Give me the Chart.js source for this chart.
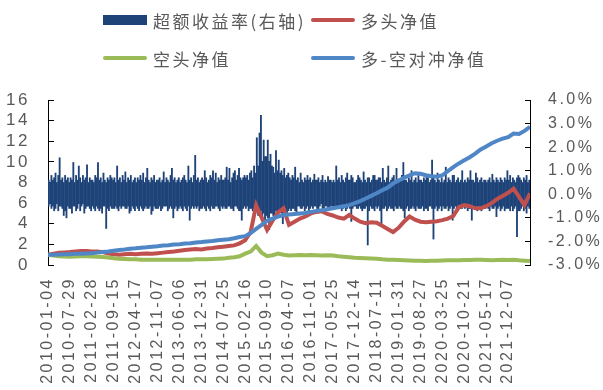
<!DOCTYPE html>
<html>
<head>
<meta charset="utf-8">
<script src="https://cdn.jsdelivr.net/npm/chart.js@4.4.0/dist/chart.umd.min.js"></script>
<style>
  body { margin: 0; background: #fff; }
  #wrap { position: relative; width: 603px; height: 390px; }
  #chart { position: absolute; left: 0; top: 0; }
  .legend-item { position: absolute; height: 20px; display: flex; align-items: center;
    font-family: "Noto Sans CJK SC", sans-serif; font-size: 17px; color: #595959;
    letter-spacing: 2.5px; white-space: nowrap; }
  .swatch { width: 44px; margin-right: 6px; }
</style>
</head>
<body>
<div id="wrap">
  <canvas id="chart" width="603" height="390"></canvas>
  <div id="legend"></div>
</div>
<script>
// Tick labels on the date axis (one every 16 samples)
const tickLabels = [
    '2010-01-04', '2010-07-29', '2011-02-28', '2011-09-15', '2012-04-17', '2012-11-07',
    '2013-06-06', '2013-12-31', '2014-07-25', '2015-02-16', '2015-09-10', '2016-04-07',
    '2016-11-01', '2017-05-25', '2017-12-14', '2018-07-11', '2019-01-31', '2019-08-27',
    '2020-03-25', '2020-10-21', '2021-05-17', '2021-12-07'
];
const barsPerTick = 16;   // samples between two date labels
const navStep = 4;        // net value lines are read every 4 samples

const seriesNames = ['超额收益率(右轴)', '多头净值', '空头净值', '多-空对冲净值'];

// Excess return, % (right axis): highest and lowest daily value in each sample,
// 16 samples per label interval
const excessHigh = [
    .6, .5, .8, .6, .7, .9, .5, .8, 1.55, .6, .7, .5, .8, .6, .7, .5,
    .7, .6, 1.35, .5, .8, .6, 1.2, .7, .5, .8, .6, .7, 1.25, .5, .7, .6,
    .6, .5, .8, .7, 1.35, .6, .7, .5, .9, .6, .5, .7, .6, .8, .7, .6,
    .7, .5, 1.2, .6, .7, .5, .8, .6, .95, .5, .7, .6, .8, .5, .6, .7,
    .5, .7, .6, .8, .6, .9, .5, .7, 1.1, .6, .5, .7, .6, .8, .5, .6,
    .6, .7, .5, .6, .95, .5, .7, .6, .5, .8, 1.1, .6, .7, .5, .6, .7,
    .5, .6, .7, .8, .6, .5, 1.2, .6, .7, .5, .8, 1.65, .6, .7, .5, .6,
    .7, .6, 1.0, .7, .5, .6, .8, .7, 1.0, .6, .9, .5, .7, .6, .8, .6,
    .6, .7, 1.15, .6, 1.1, .5, .7, .9, 1.0, .6, .8, 1.1, .7, .6, .7, .8,
    .7, .8, .6, .9, 1.0, .7, 1.2, .9, 2.4, 1.2, 2.6, 3.35, 1.4, 2.3, 1.6, 1.6,
    2.3, 1.4, 1.7, 1.2, 1.15, .9, 1.85, 1.0, 1.45, .9, 1.0, .8, 1.1, .7, .8, .9,
    .7, .6, .8, .7, 1.15, .6, .7, .5, .9, .6, .5, .7, .6, .8, .6, .7,
    .5, .6, .85, .6, .6, .7, .5, .6, .8, .5, .6, .5, .75, .6, .6, .5,
    .6, .5, 1.2, .6, .7, .5, .8, .6, .5, .7, .9, .6, .6, .8, .7, .5,
    .5, .6, .8, .7, .6, .5, .95, .6, .5, .7, .7, .5, .6, .8, .8, .6,
    .6, .7, .7, .5, 1.1, .6, .5, .7, 1.2, .5, .6, .7, .8, .5, 1.1, .6,
    .5, .6, .8, 1.35, .6, .6, .5, .7, .6, 1.0, .5, .6, .7, .5, .8, .6,
    .6, .5, .7, .6, .8, .7, .5, .6, 1.45, .7, .6, .5, .9, .6, .5, .7,
    .5, .6, 1.15, .5, .7, .6, .5, .8, .8, .5, .6, .7, .5, .6, 1.0, .5,
    .6, .5, .7, .6, 1.0, .6, .6, .5, .9, .7, .5, .6, .7, .5, .6, .6,
    .5, .6, .7, .5, .85, .6, .5, .7, .6, .5, .7, .6, .5, .7, .6, 1.0,
    .6, .8, .5, .7, .6, .5, .7, .8, .7, .6, .5, .7, .6, .8, .5, .6
];
const excessLow = [
    -.5, -.4, -.6, -.5, -.7, -.6, -.4, -.7, -.5, -.5, -.6, -.9, -.7, -1.0, -.5, -.6,
    -.6, -.8, -.5, -.5, -.7, -.6, -.4, -.7, -.5, -.4, -.8, -.6, -.5, -.5, -.6, -.7,
    -.5, -.6, -.7, -.5, -.6, -.7, -.6, -.8, -.5, -.5, -1.45, -.6, -.7, -.5, -.6, -.6,
    -.6, -.5, -.6, -.7, -.5, -.6, -.5, -.5, -.6, -.6, -.5, -.8, -.7, -.5, -.6, -.7,
    -.5, -.6, -.7, -.5, -.6, -.7, -.6, -.5, -.6, -.6, -.5, -.85, -.7, -.5, -.6, -.6,
    -.6, -.5, -.7, -.6, -.5, -.5, -.5, -.7, -.6, -.5, -.6, -1.0, -.6, -.5, -.7, -.6,
    -.5, -.6, -.7, -.5, -.6, -.7, -.5, -1.1, -.6, -.5, -.6, -.5, -.6, -.5, -.7, -.6,
    -.6, -.5, -.6, -.7, -.5, -.6, -.7, -.5, -.6, -.6, -.5, -.5, -.6, -.7, -.5, -.6,
    -.5, -.6, -.6, -.5, -.5, -.6, -.6, -.7, -.5, -.5, -.6, -.7, -.7, -1.1, -.6, -.5,
    -.6, -.5, -.7, -.6, -.6, -.7, -.6, -.8, -.7, -.9, -.8, -.7, -1.0, -.8, -1.25, -.9,
    -1.0, -1.5, -.8, -.8, -.9, -.9, -.7, -.96, -.8, -.7, -.8, -1.25, -.7, -.6, -.8, -.7,
    -.6, -.7, -.6, -.6, -.7, -.8, -.5, -.5, -.6, -.6, -.5, -.7, -.6, -.5, -.7, -.6,
    -.5, -.6, -.5, -.5, -.6, -.7, -.5, -.4, -.6, -.6, -.5, -.5, -.6, -.6, -.5, -.5,
    -.6, -.5, -.6, -.6, -.5, -.5, -.7, -.6, -.5, -.7, -.6, -.5, -.6, -1.15, -.6, -.5,
    -.5, -.6, -.6, -.5, -.6, -.7, -.6, -.6, -.5, -2.15, -.7, -.5, -.6, -.6, -.7, -.5,
    -.6, -.5, -.7, -1.3, -.6, -.6, -.5, -.7, -.6, -.5, -.6, -.6, -.7, -.5, -.6, -.6,
    -.5, -.6, -.6, -.7, -1.0, -.6, -.5, -.7, -.6, -.6, -.5, -.6, -.7, -.5, -.6, -.6,
    -.6, -.5, -.7, -.6, -.6, -.7, -.5, -.5, -.6, -1.9, -.6, -.5, -.7, -.6, -.5, -.7,
    -.5, -.6, -.6, -.5, -.7, -.6, -.5, -1.1, -.6, -.5, -.6, -.7, -.5, -.6, -.6, -.5,
    -.6, -.5, -.7, -.6, -.6, -1.1, -.6, -.5, -.6, -.7, -.5, -.6, -.7, -.5, -.6, -.6,
    -.5, -.6, -.7, -.5, -.6, -.6, -.5, -.95, -.6, -.5, -.7, -.6, -.5, -.7, -.6, -.6,
    -.6, -.7, -.5, -.7, -.6, -.5, -1.8, -.7, -.7, -.6, -.5, -.7, -.6, -.8, -.5, -.6
];

// Net values (left axis), one reading every navStep samples
const longNav = [
    1.0, 1.1, 1.2, 1.22, 1.25, 1.3, 1.35, 1.35, 1.3, 1.32, 1.25, 1.12, 1.05, 1.0, 1.05, 1.08,
    1.05, 1.1, 1.12, 1.1, 1.15, 1.2, 1.25, 1.3, 1.38, 1.45, 1.5, 1.55, 1.5, 1.6, 1.65, 1.72,
    1.78, 1.85, 1.9, 2.1, 2.4, 3.2, 5.8, 4.6, 3.4, 4.3, 5.1, 5.5, 3.9, 4.2, 4.5, 4.7,
    5.0, 5.15, 5.2, 4.95, 4.8, 4.6, 4.5, 4.85, 4.5, 4.2, 4.05, 4.15, 4.1, 3.8, 3.5, 3.2,
    3.6, 4.2, 4.7, 4.4, 4.2, 4.15, 4.2, 4.25, 4.35, 4.5, 4.75, 5.6, 5.8, 5.7, 5.5, 5.5,
    5.7, 6.0, 6.4, 6.7, 7.0, 7.4, 6.6, 5.8, 6.95
];
const shortNav = [
    1.0, 0.92, 0.85, 0.82, 0.8, 0.82, 0.85, 0.85, 0.82, 0.8, 0.78, 0.72, 0.65, 0.6, 0.58, 0.55,
    0.55, 0.52, 0.52, 0.5, 0.52, 0.52, 0.5, 0.5, 0.52, 0.5, 0.52, 0.55, 0.55, 0.55, 0.58, 0.6,
    0.62, 0.7, 0.75, 0.85, 1.1, 1.3, 1.85, 1.2, 0.85, 0.95, 1.1, 1.0, 0.92, 0.95, 0.97, 0.95,
    0.97, 0.95, 0.93, 0.95, 0.92, 0.85, 0.8, 0.75, 0.7, 0.68, 0.65, 0.62, 0.6, 0.55, 0.52, 0.5,
    0.48, 0.45, 0.43, 0.42, 0.42, 0.4, 0.42, 0.42, 0.43, 0.45, 0.45, 0.47, 0.48, 0.48, 0.5, 0.5,
    0.48, 0.47, 0.48, 0.5, 0.48, 0.5, 0.45, 0.42, 0.38
];
const hedgeNav = [
    1.0, 1.0, 1.02, 1.05, 1.05, 1.08, 1.1, 1.12, 1.15, 1.2, 1.25, 1.3, 1.38, 1.45, 1.5, 1.58,
    1.62, 1.68, 1.72, 1.78, 1.82, 1.88, 1.92, 1.98, 2.02, 2.08, 2.12, 2.18, 2.22, 2.28, 2.32, 2.4,
    2.45, 2.5, 2.6, 2.72, 2.8, 3.1, 3.5, 3.9, 4.3, 4.5, 4.7, 4.85, 4.9, 4.95, 5.0, 5.05,
    5.15, 5.25, 5.3, 5.4, 5.5, 5.6, 5.7, 5.8, 6.0, 6.2, 6.45, 6.7, 6.95, 7.25, 7.5, 7.9,
    8.2, 8.45, 8.7, 8.9, 8.85, 8.7, 8.6, 8.55, 8.7, 9.1, 9.5, 9.85, 10.15, 10.45, 10.8, 11.2,
    11.5, 11.8, 12.05, 12.25, 12.4, 12.75, 12.7, 13.0, 13.4
];

const axisFont = { family: '"Liberation Sans", Arial, sans-serif', size: 16 };
const textColor = '#595959';
const colors = ['#1e4379', '#c0504d', '#9bbb59', '#4f86c6'];

// HTML legend in two rows
const legendSpots = [[103, 10], [311, 10], [103, 48], [311, 48]];
const legend = document.getElementById('legend');
seriesNames.forEach((name, i) => {
    let item = document.createElement('div');
    item.className = 'legend-item';
    item.style.left = legendSpots[i][0] + 'px';
    item.style.top = legendSpots[i][1] + 'px';
    let sw = document.createElement('span');
    sw.className = 'swatch';
    sw.style.background = colors[i];
    sw.style.height = i === 0 ? '10px' : '4px';
    sw.style.borderRadius = i === 0 ? '0' : '2px';
    let label = document.createElement('span');
    label.textContent = name;
    item.appendChild(sw);
    item.appendChild(label);
    legend.appendChild(item);
});

const toPoints = values => values.map((v, k) => ({ x: k * navStep, y: v }));

// Canvas letter spacing to match the wide axis text
const spacingPlugin = {
    id: 'spacing',
    beforeDraw(chart) { chart.ctx.letterSpacing = '2.5px'; }
};

const ctx = document.getElementById('chart').getContext('2d');
const chart = new Chart(ctx, {
    type: 'bar',
    data: {
        datasets: [
            {
                type: 'line', label: seriesNames[3], data: toPoints(hedgeNav), yAxisID: 'y',
                borderColor: colors[3], borderWidth: 4, pointRadius: 0, order: 1
            },
            {
                type: 'line', label: seriesNames[2], data: toPoints(shortNav), yAxisID: 'y',
                borderColor: colors[2], borderWidth: 4, pointRadius: 0, order: 2
            },
            {
                type: 'line', label: seriesNames[1], data: toPoints(longNav), yAxisID: 'y',
                borderColor: colors[1], borderWidth: 4, pointRadius: 0, order: 3
            },
            {
                type: 'bar', label: seriesNames[0],
                data: excessLow.map((lo, i) => ({ x: i + 0.5, y: [lo, excessHigh[i]] })),
                yAxisID: 'y1', backgroundColor: colors[0], borderWidth: 0,
                barThickness: 1.2, order: 4
            }
        ]
    },
    options: {
        responsive: false,
        animation: false,
        layout: { padding: { top: 100 } },
        plugins: { legend: { display: false }, tooltip: { enabled: false } },
        scales: {
            x: {
                type: 'linear',
                min: 0,
                max: barsPerTick * (tickLabels.length - 1) + 16,
                offset: false,
                grid: { display: false, drawTicks: false, offset: false },
                border: { display: false },
                afterBuildTicks: scale => {
                    scale.ticks = tickLabels.map((_, k) => ({ value: k * barsPerTick }));
                },
                afterFit: scale => { scale.height = 125; },
                ticks: {
                    autoSkip: false, minRotation: 90, maxRotation: 90, padding: 12,
                    color: textColor, font: axisFont,
                    callback: (value, index) => tickLabels[index]
                }
            },
            y: {
                position: 'left', min: 0, max: 16,
                afterFit: scale => { scale.width = 48; },
                ticks: {
                    stepSize: 2, autoSkip: false, padding: 24, color: textColor,
                    font: { family: axisFont.family, size: 17 }
                },
                grid: { drawOnChartArea: false, tickLength: -6, color: '#000' },
                border: { color: '#000' }
            },
            y1: {
                position: 'right', min: -3, max: 4,
                afterFit: scale => { scale.width = 73; },
                ticks: {
                    stepSize: 1, autoSkip: false, padding: 23, color: textColor, font: axisFont,
                    callback: value => value.toFixed(1) + '%'
                },
                grid: { drawOnChartArea: false, tickLength: -5, color: '#000' },
                border: { color: '#000' }
            }
        }
    },
    plugins: [spacingPlugin]
});
</script>
</body>
</html>
